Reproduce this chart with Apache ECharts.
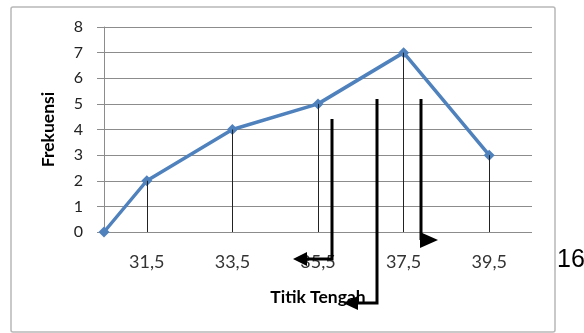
<!DOCTYPE html>
<html>
<head>
<meta charset="utf-8">
<script src="https://cdn.jsdelivr.net/npm/echarts@6/dist/echarts.min.js"></script>
<style>
html,body{margin:0;padding:0;background:#fff;}
#c{width:584px;height:333px;}
</style>
</head>
<body>
<div id="c"></div>
<script>
// data
var midpoints = [30.5, 31.5, 33.5, 35.5, 37.5, 39.5];
var frequencies = [0, 2, 4, 5, 7, 3];
var xTickValues = [31.5, 33.5, 35.5, 37.5, 39.5];
var yTicks = [0, 1, 2, 3, 4, 5, 6, 7, 8];
var xTitle = 'Titik Tengah';
var yTitle = 'Frekuensi';
var sideNote = '16';

var chart = echarts.init(document.getElementById('c'), null, {renderer: 'canvas'});

var lineData = midpoints.map(function (m, i) { return [m, frequencies[i]]; });
var dropLines = [];
midpoints.forEach(function (m, i) {
  if (frequencies[i] > 0) {
    dropLines.push([{coord: [m, frequencies[i]]}, {coord: [m, 0]}]);
  }
});

var fontFam = 'Lato, "Open Sans", sans-serif';

var option = {
  animation: false,
  backgroundColor: '#fff',
  grid: {left: 104, right: 52, top: 27, bottom: 101, containLabel: false},
  xAxis: {
    type: 'value',
    min: 30.5,
    max: 40.5,
    name: xTitle,
    nameLocation: 'middle',
    nameGap: 56,
    nameTextStyle: {fontFamily: fontFam, fontWeight: 'bold', fontSize: 17.5, color: '#000'},
    axisLine: {show: false},
    axisTick: {show: false},
    splitLine: {show: false},
    axisLabel: {
      customValues: xTickValues,
      margin: 21,
      fontFamily: fontFam,
      fontSize: 18,
      color: '#333',
      formatter: function (v) { return String(v).replace('.', ','); }
    }
  },
  yAxis: {
    type: 'value',
    min: yTicks[0],
    max: yTicks[yTicks.length - 1],
    interval: 1,
    name: yTitle,
    nameLocation: 'middle',
    nameGap: 47,
    nameRotate: 90,
    nameTextStyle: {fontFamily: fontFam, fontWeight: 'bold', fontSize: 17.5, color: '#000'},
    axisLine: {show: true, lineStyle: {color: '#8c8c8c', width: 1}},
    axisTick: {show: true, inside: false, length: 7, lineStyle: {color: '#8c8c8c'}},
    splitLine: {show: true, lineStyle: {color: '#8c8c8c', width: 1}},
    axisLabel: {margin: 21, fontFamily: fontFam, fontSize: 16, color: '#222'}
  },
  series: [
    {
      type: 'line',
      data: [],
      z: 1,
      silent: true,
      markLine: {
        silent: true,
        symbol: ['none', 'none'],
        label: {show: false},
        lineStyle: {color: '#222', width: 1, type: 'solid'},
        data: dropLines
      }
    },
    {
      type: 'line',
      data: lineData,
      z: 3,
      symbol: 'diamond',
      symbolSize: 11,
      lineStyle: {color: '#4f81bd', width: 3.5},
      itemStyle: {color: '#4f81bd'}
    }
  ],
  graphic: [
    {type: 'rect', shape: {x: 11, y: 7, width: 544, height: 325, r: 2}, style: {fill: 'none', stroke: '#b8b8b8', lineWidth: 1.5}, z: 0, silent: true},
    {type: 'polyline', shape: {points: [[332, 119], [332, 259], [305, 259]]}, style: {stroke: '#000', lineWidth: 3, fill: 'none'}, z: 100},
    {type: 'polygon', shape: {points: [[293, 259], [307, 252], [307, 266]]}, style: {fill: '#000'}, z: 100},
    {type: 'polyline', shape: {points: [[377, 99], [377, 303], [356, 303]]}, style: {stroke: '#000', lineWidth: 3, fill: 'none'}, z: 100},
    {type: 'polygon', shape: {points: [[343, 303], [358, 296], [358, 310]]}, style: {fill: '#000'}, z: 100},
    {type: 'polyline', shape: {points: [[421, 99], [421, 240]]}, style: {stroke: '#000', lineWidth: 3, fill: 'none'}, z: 100},
    {type: 'polygon', shape: {points: [[420, 232], [438, 240], [420, 248]]}, style: {fill: '#000'}, z: 100},
    {type: 'text', left: 557, top: 248, style: {text: sideNote, font: '25px "Liberation Sans", Arial, sans-serif', fill: '#000'}, z: 100}
  ]
};
chart.setOption(option);
</script>
</body>
</html>
